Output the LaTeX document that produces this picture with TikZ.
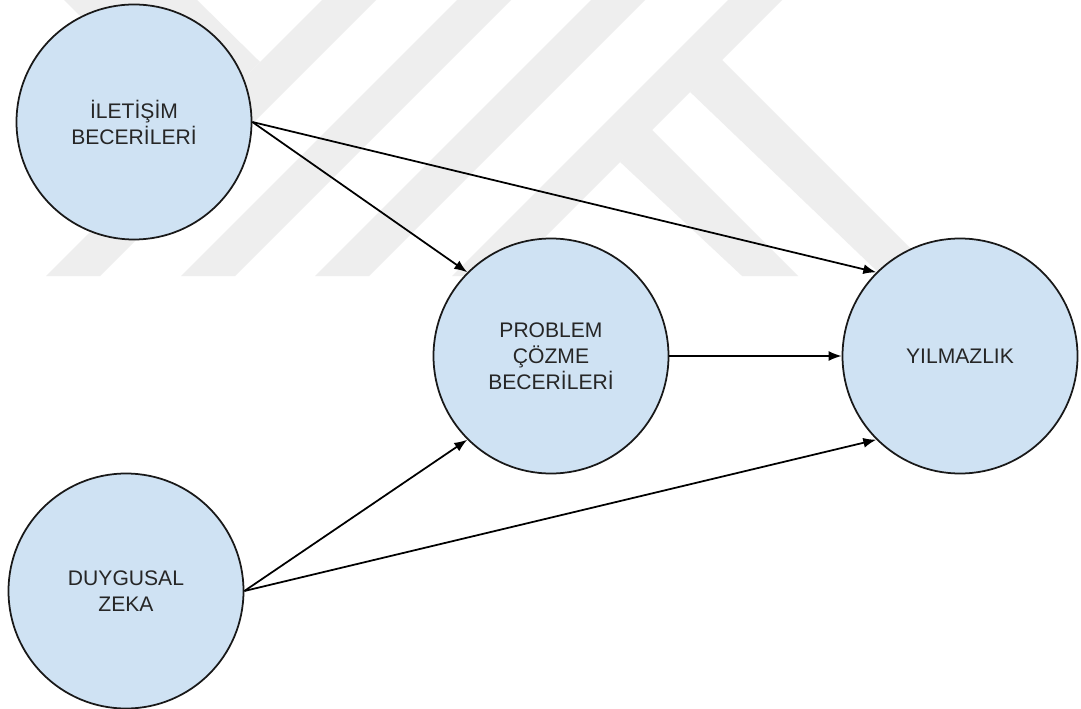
\documentclass[tikz,border=0pt]{standalone}
\usepackage{fontspec}
\newfontfamily\arialfont{Liberation Sans}
\usetikzlibrary{arrows.meta}
\definecolor{kutumavi}{HTML}{CFE2F3}
\definecolor{filigran}{HTML}{EEEEEE}

\begin{document}
\begin{tikzpicture}[>={Latex[length=2.6mm,width=2mm]},
    faktor/.style={circle, draw=black!90, line width=1pt, fill=kutumavi,
      minimum size=4.7cm, inner sep=0pt, align=center, text=black!85,
      font=\arialfont\fontsize{12}{14.8}\selectfont},
    ok/.style={->, line width=1pt, black}]
  \useasboundingbox (0,0) rectangle (21.62,-14.18);
  \fill[white] (0,0) rectangle (21.62,-14.18);
  % watermark in the background (pixel units)
  \begin{scope}[x=0.02cm, y=-0.02cm]
    \clip (0,0) rectangle (1081,276);
    \foreach \c in {322,457,591,728}
      \fill[filigran] (\c,0) -- ++(54,0) -- ++(-276,276) -- ++(-54,0) -- cycle;
    \fill[filigran] (690,92) -- (720,58) -- (938,276) -- (882,276) -- cycle;
    \fill[filigran] (620,162) -- (650,128) -- (798,276) -- (742,276) -- cycle;
    \fill[filigran] (64,0) -- (197,0) -- (260,62) -- (194,128) -- cycle;
  \end{scope}

  % constructs
  \node[faktor] (iletisim)  at (2.68,-2.44)  {İLETİŞİM\\BECERİLERİ};
  \node[faktor] (duygusal)  at (2.52,-11.82) {DUYGUSAL\\ZEKA};
  \node[faktor] (problem)   at (11.02,-7.12) {PROBLEM\\ÇÖZME\\BECERİLERİ};
  \node[faktor] (yilmazlik) at (19.2,-7.12)  {YILMAZLIK};

  % paths
  \draw[ok] (iletisim.east) -- (problem.135);
  \draw[ok] (iletisim.east) -- (yilmazlik.135);
  \draw[ok] (duygusal.east) -- (problem.225);
  \draw[ok] (duygusal.east) -- (yilmazlik.225);
  \draw[ok] (problem.east) -- (yilmazlik.west);
\end{tikzpicture}
\end{document}
